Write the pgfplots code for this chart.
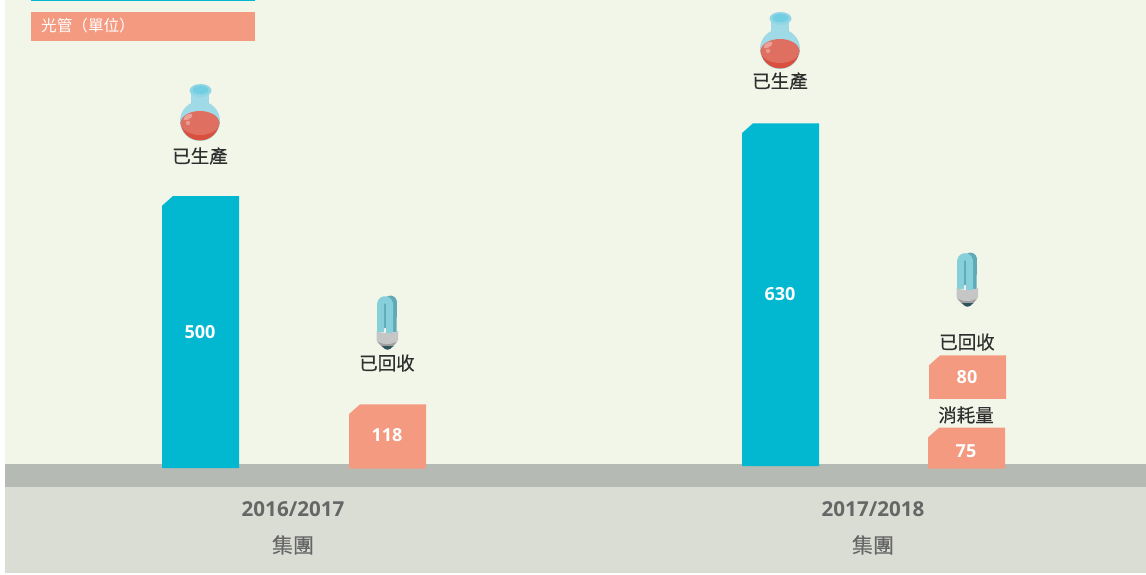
\documentclass[border=0pt]{standalone}
\usepackage{fontspec}
\setmainfont{Open Sans}
\newfontfamily\cjk{Noto Sans CJK TC}
\newfontfamily\cjkheavy[FakeBold=0.25]{Noto Sans CJK TC}
\usepackage{pgfplots}
\pgfplotsset{compat=1.18}
\definecolor{cPage}{HTML}{F2F6E8}
\definecolor{cBand}{HTML}{B6BAB4}
\definecolor{cFoot}{HTML}{DADDD4}
\definecolor{cBlue}{HTML}{02B8D0}
\definecolor{cSalmon}{HTML}{F49A80}
\definecolor{cInk}{HTML}{2E2E2E}
\definecolor{cGrey}{HTML}{666666}
\definecolor{cGlass}{HTML}{A0DAE6}
\definecolor{cLip}{HTML}{72CEE2}
\definecolor{cLiquid}{HTML}{DE6F61}
\definecolor{cLiquidDark}{HTML}{D9503F}
\definecolor{cTube}{HTML}{88CFDC}
\definecolor{cTubeBack}{HTML}{5FAAB8}

% icons, local units are reference pixels, y pointing down
\newcommand{\flask}[2]{%
\begin{scope}[shift={(#1,#2)},yscale=-1]
  \fill[cGlass] (-9,-24) rectangle (9,-6);
  \fill[cGlass] (0,6) circle (20);
  \fill[cGlass!70!cLip] (0.5,-24.5) ellipse (11 and 6.5);
  \fill[cLip] (0.5,-25) ellipse (8 and 4.3);
  \begin{scope}
    \clip (-21,8) rectangle (21,28);
    \fill[cLiquidDark] (0,6) circle (19.5);
  \end{scope}
  \fill[cLiquid] (0,8) ellipse (19.4 and 12);
  \fill[white,opacity=0.35,rotate around={-30:(-12,2)}] (-12,2) ellipse (5 and 2.5);
  \fill[white,opacity=0.3] (-12,8) circle (2.2);
\end{scope}}
\newcommand{\bulb}[2]{%
\begin{scope}[shift={(#1,#2)},yscale=-1]
  \draw[line width=6pt,color=cTubeBack,line join=round] (0,6) -- (0,-20) arc (180:360:3.5) -- (6.5,10);
  \draw[line width=7pt,color=cTube,line join=round] (-6.5,10) -- (-6.5,-18) arc (180:360:4.5) -- (2.5,13);
  \fill[gray!45] (-10.5,9) .. controls (-3,12) and (4,12) .. (11,9) -- (11,18) .. controls (11,21) and (8,22) .. (6,24) -- (-5,24) .. controls (-8,22) and (-10.5,21) .. (-10.5,18) -- cycle;
  \fill[gray!75] (-9,20) .. controls (-3,23) and (4,23) .. (9,20) -- (6,25) -- (-5,25) -- cycle;
  \fill[cTubeBack!50!black] (-5,24) .. controls (-2,29) and (3,29) .. (6,24) -- cycle;
\end{scope}}

\begin{document}
\begin{tikzpicture}[x=1pt,y=1pt]
\fill[white] (0,0) rectangle (1146,574);
\fill[cPage] (5,87) rectangle (1146,574);
\fill[cBand] (5,87) rectangle (1146,110);
\fill[cFoot] (5,1) rectangle (1146,87);
% legend
\fill[cBlue] (31,573) rectangle (255,574);
\fill[cSalmon] (31,533) rectangle (255,562);
\node[anchor=west,inner sep=0pt,text=white,font={\cjk\fontsize{15.6}{15.6}\selectfont}] at (41,548) {光管（單位）};
\begin{axis}[
    at={(0,0)},anchor=south west,
    scale only axis,
    width=1146pt,height=574pt,
    xmin=0,xmax=1146,
    ymin=-196.7,ymax=858.5,
    hide axis,
    clip=false,
]
\addplot[fill=cBlue,draw=none,no markers,yshift=-1pt] coordinates {(162,0)(162,482)(173,500)(239,500)(239,0)};
\addplot[fill=cBlue,draw=none,no markers,yshift=1pt] coordinates {(742,0)(742,612)(753,630)(819,630)(819,0)};
\addplot[fill=cSalmon,draw=none,no markers,yshift=-1.5pt] coordinates {(349,0)(349,100)(360,118)(426,118)(426,0)};
\addplot[fill=cSalmon,draw=none,no markers,yshift=68pt] coordinates {(929,0)(929,62)(940,80)(1006,80)(1006,0)};
\addplot[fill=cSalmon,draw=none,no markers,yshift=-1.5pt] coordinates {(928,0)(928,57)(939,75)(1005,75)(1005,0)};
\end{axis}
\flask{200}{459}
\flask{780}{531}
\bulb{387}{252}
\bulb{967}{295}
\tikzset{lab/.style={text=cInk,font={\cjkheavy\fontsize{18.5}{18.5}\selectfont},inner sep=0pt},
  val/.style={text=white,font={\fontsize{18}{18}\selectfont\bfseries},inner sep=0pt},
  yr/.style={text=cGrey,font={\fontsize{20.6}{20.6}\selectfont\bfseries},inner sep=0pt},
  grp/.style={text=cGrey,font={\cjkheavy\fontsize{21}{21}\selectfont},inner sep=0pt}}
\node[lab] at (200,418) {已生產};
\node[lab] at (780,493) {已生產};
\node[lab] at (387,211) {已回收};
\node[lab] at (967,232) {已回收};
\node[lab] at (966,159) {消耗量};
\node[val] at (200,242) {500};
\node[val] at (780,280) {630};
\node[val] at (387,139) {118};
\node[val] at (967,197) {80};
\node[val] at (966,123) {75};
\node[yr] at (293,65) {2016/2017};
\node[yr] at (873,65) {2017/2018};
\node[grp] at (293,29) {集團};
\node[grp] at (873,29) {集團};
\end{tikzpicture}
\end{document}
